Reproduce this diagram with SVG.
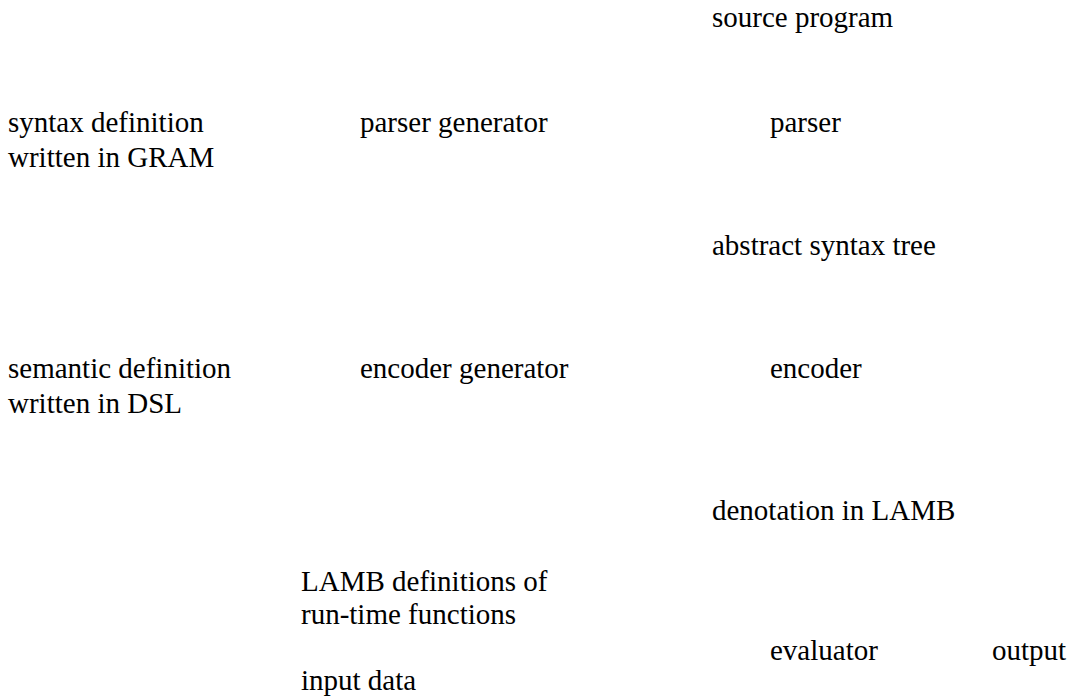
<svg xmlns="http://www.w3.org/2000/svg" width="1071" height="700" viewBox="0 0 1071 700">
<style>
text { font-family: "Liberation Serif", "Times New Roman", serif; font-size: 29px; fill: #000; }
</style>
<rect width="1071" height="700" fill="#fff"/>
<g id="source-program"><text x="712" y="27">source program</text></g>
<g id="syntax-definition"><text x="8" y="132">syntax definition</text><text x="8" y="167">written in GRAM</text></g>
<g id="parser-generator"><text x="360" y="132">parser generator</text></g>
<g id="parser"><text x="770" y="132">parser</text></g>
<g id="abstract-syntax-tree"><text x="712" y="255">abstract syntax tree</text></g>
<g id="semantic-definition"><text x="8" y="378">semantic definition</text><text x="8" y="413">written in DSL</text></g>
<g id="encoder-generator"><text x="360" y="378">encoder generator</text></g>
<g id="encoder"><text x="770" y="378">encoder</text></g>
<g id="denotation"><text x="712" y="520">denotation in LAMB</text></g>
<g id="lamb-definitions"><text x="301" y="591">LAMB definitions of</text><text x="301" y="624">run-time functions</text></g>
<g id="evaluator"><text x="770" y="660">evaluator</text></g>
<g id="output"><text x="992" y="660">output</text></g>
<g id="input-data"><text x="301" y="690">input data</text></g>
<g id="connectors"></g>
</svg>
